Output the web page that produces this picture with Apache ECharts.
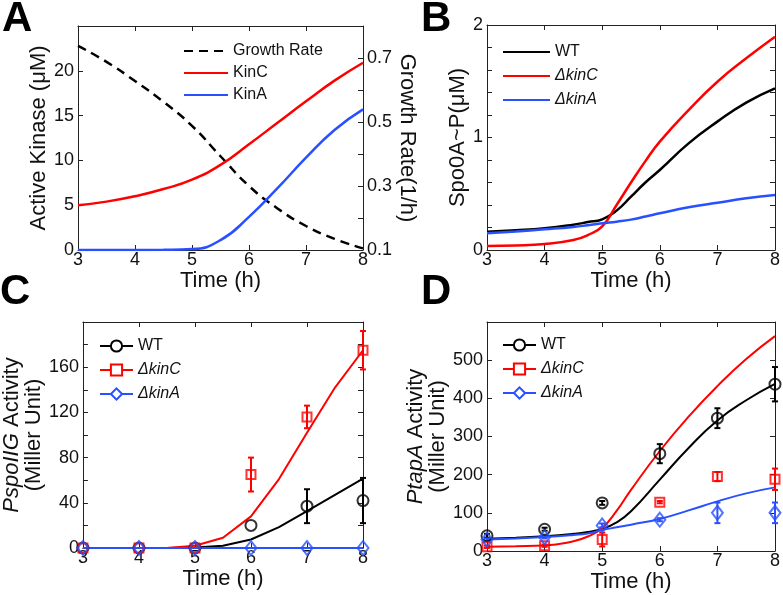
<!DOCTYPE html>
<html>
<head>
<meta charset="utf-8">
<script src="https://cdn.jsdelivr.net/npm/echarts@6/dist/echarts.min.js"></script>
<style>
  html, body { margin: 0; padding: 0; background: #fff; }
  #chart { width: 783px; height: 595px; }
</style>
</head>
<body>
<div id="chart"></div>
<script>
// ---- data ----
// panel A: model kinase / growth rate
const hoursA = [3, 3.5, 4, 4.5, 5, 5.5, 6, 6.5, 7, 7.5, 8]
const growthRate = [0.738, 0.688, 0.628, 0.563, 0.488, 0.393, 0.3, 0.23, 0.175, 0.135, 0.105]
const kinC = [5.0, 5.4, 6.0, 6.8, 7.85, 9.5, 11.8, 14.2, 16.6, 18.9, 20.9]
const kinA = [0, 0, 0, 0.02, 0.1, 1.1, 3.7, 6.9, 10.3, 13.4, 15.7]

// panel B: Spo0A~P model
const hoursB = [3, 3.5, 4, 4.5, 4.75, 5, 5.25, 5.5, 5.75, 6, 6.5, 7, 7.5, 8]
const spoWT = [0.163, 0.175, 0.193, 0.225, 0.248, 0.273, 0.35, 0.474, 0.6, 0.711, 0.948, 1.141, 1.31, 1.437]
const spoKinC = [0.036, 0.04, 0.053, 0.089, 0.133, 0.21, 0.4, 0.6, 0.79, 0.963, 1.244, 1.496, 1.704, 1.896]
const spoKinA = [0.148, 0.165, 0.184, 0.205, 0.22, 0.237, 0.252, 0.27, 0.297, 0.326, 0.38, 0.42, 0.459, 0.489]

// panel C: PspoIIG activity
const hoursC = [3, 3.5, 4, 4.5, 5, 5.5, 6, 6.5, 7, 7.5, 8]
const spoiigModelWT = [0, 0, 0, 0, 0.5, 2, 7.5, 18.4, 32.6, 47, 61.3]
const spoiigModelKinC = [0, 0, 0, 0, 2, 9, 28, 61, 102, 142, 175]
const spoiigModelKinA = [0, 0, 0, 0, 0, 0, 0, 0, 0, 0, 0]

const hoursData = [3, 4, 5, 6, 7, 8]
const spoiigWT = [0, 0, 0, 20, 37, 42]
const spoiigWTErr = [0, 0, 0, 0, 15, 20]
const spoiigKinC = [0, 0, 0, 65, 116, 175]
const spoiigKinCErr = [0, 0, 0, 15, 10, 17]
const spoiigKinA = [0, 0, 0, 0, 0, 0]
const spoiigKinAErr = [0, 0, 0, 0, 0, 0]

// panel D: PtapA activity
const hoursD = [3, 3.5, 4, 4.5, 4.75, 5, 5.25, 5.5, 6, 6.5, 7, 7.5, 8]
const tapaModelWT = [32, 35, 38.7, 45, 50, 58, 75, 104, 187, 270, 342, 395, 438]
const tapaModelKinC = [11, 12.5, 14.4, 25.6, 38, 60.5, 105, 160, 262, 352, 432, 503, 563]
const tapaModelKinA = [30, 33, 36.5, 42, 46, 55, 62, 69, 84, 106.5, 130, 151, 166.7]

const tapaWT = [40, 57, 126, 255, 348, 437]
const tapaWTErr = [5, 4, 5, 25, 26, 45]
const tapaKinC = [11, 14, 30, 128, 195, 188]
const tapaKinCErr = [3, 3, 18, 3, 12, 28]
const tapaKinA = [30, 36, 67, 82, 100, 100]
const tapaKinAErr = [3, 3, 5, 4, 27, 27]

// ---- styles ----
const FONT = 'Liberation Sans, Arial, Helvetica, sans-serif'
const RED = '#ff0000'
const BLUE = '#2850ff'
const BLACK = '#000000'
const AXIS = '#222222'

const zip = (xs, ys) => xs.map((x, i) => [x, ys[i]])
const errRows = (xs, ys, es) => xs.map((x, i) => [x, ys[i] - es[i], ys[i] + es[i]]).filter(d => d[2] > d[1])

function xAxes(grid, nameGap) {
  const base = {
    type: 'value', gridIndex: grid, min: 3, max: 8, interval: 1,
    axisLine: { show: true, onZero: false, lineStyle: { color: AXIS, width: 1 } },
    axisTick: { show: true, inside: true, length: 5, lineStyle: { color: AXIS } },
    splitLine: { show: false }
  }
  return [
    Object.assign({}, base, {
      position: 'bottom',
      name: 'Time (h)', nameLocation: 'middle', nameGap: nameGap,
      nameTextStyle: { fontSize: 22, color: '#111', fontFamily: FONT },
      axisLabel: { fontSize: 18, color: '#111', margin: 1, fontFamily: FONT }
    }),
    Object.assign({}, base, { position: 'top', axisLabel: { show: false } })
  ]
}

function yAxis(grid, pos, range, labelFn, nameOpts) {
  const ax = {
    type: 'value', gridIndex: grid, position: pos,
    min: range[0], max: range[1], interval: range[2],
    axisLine: { show: true, onZero: false, lineStyle: { color: AXIS, width: 1 } },
    axisTick: { show: true, inside: true, length: 5, lineStyle: { color: AXIS } },
    splitLine: { show: false },
    axisLabel: labelFn
      ? { fontSize: 18, color: '#111', margin: 4, fontFamily: FONT, formatter: labelFn }
      : { show: false }
  }
  return nameOpts ? Object.assign(ax, nameOpts) : ax
}

function errorBars(color) {
  return function (params, api) {
    const x = api.value(0)
    const top = api.coord([x, api.value(2)])
    const bot = api.coord([x, api.value(1)])
    const cap = 3
    const st = () => ({ stroke: color, lineWidth: 2, fill: null })
    return {
      type: 'group',
      children: [
        { type: 'line', shape: { x1: top[0], y1: top[1], x2: bot[0], y2: bot[1] }, style: st() },
        { type: 'line', shape: { x1: top[0] - cap, y1: top[1], x2: top[0] + cap, y2: top[1] }, style: st() },
        { type: 'line', shape: { x1: bot[0] - cap, y1: bot[1], x2: bot[0] + cap, y2: bot[1] }, style: st() }
      ]
    }
  }
}

function modelLine(name, xi, yi, xs, ys, color, opts) {
  return Object.assign({
    name: name, type: 'line', xAxisIndex: xi, yAxisIndex: yi,
    data: zip(xs, ys), symbol: 'none', showSymbol: false,
    lineStyle: { color: color, width: 2 }, itemStyle: { color: color },
    animation: false, z: 2
  }, opts || {})
}

function markers(name, xi, yi, ys, symbol, size, color) {
  return {
    name: name, type: 'scatter', xAxisIndex: xi, yAxisIndex: yi,
    data: zip(hoursData, ys), symbol: symbol, symbolSize: size,
    itemStyle: { color: 'rgba(0,0,0,0)', borderColor: color, borderWidth: 2 },
    animation: false, z: 4
  }
}

function bars(name, xi, yi, ys, es, color) {
  return {
    name: name, type: 'custom', xAxisIndex: xi, yAxisIndex: yi,
    data: errRows(hoursData, ys, es), encode: { x: 0, y: [1, 2] },
    renderItem: errorBars(color), animation: false, z: 3
  }
}

const legendBase = {
  orient: 'vertical', padding: 0, itemHeight: 14,
  textStyle: { fontSize: 16, color: '#111', fontFamily: FONT },
  formatter: name => name.trim()
}
const italic = { fontStyle: 'italic' }
const thick = color => ({ smooth: true, lineStyle: { color: color, width: 2.5 } })

const option = {
  backgroundColor: '#fff',
  animation: false,
  grid: [
    { left: 78, top: 26, width: 285, height: 224 },
    { left: 487, top: 25, width: 289, height: 225 },
    { left: 78, top: 322, width: 285, height: 226 },
    { left: 487, top: 322, width: 290, height: 229 }
  ],
  xAxis: [].concat(xAxes(0, 19), xAxes(1, 19), xAxes(2, 20), xAxes(3, 18)),
  yAxis: [
    yAxis(0, 'left', [0, 25, 5], v => (v > 20 ? '' : v), {
      name: 'Active Kinase (μM)', nameLocation: 'middle', nameGap: 21,
      nameTextStyle: { fontSize: 22, color: '#111', fontFamily: FONT }
    }),
    yAxis(0, 'right', [0.1, 0.8, 0.1], v => {
      const r = Math.round(v * 10)
      return r % 2 === 1 && r < 8 ? (r / 10).toFixed(1) : ''
    }, {
      name: 'Growth Rate(1/h)', nameLocation: 'middle', nameGap: 22, nameRotate: -90,
      nameTextStyle: { fontSize: 22, color: '#111', fontFamily: FONT }
    }),
    yAxis(1, 'left', [0, 2, 0.2], v => (Math.abs(v - Math.round(v)) < 1e-6 ? String(Math.round(v)) : ''), {
      name: 'Spo0A~P(μM)', nameLocation: 'middle', nameGap: 16,
      nameTextStyle: { fontSize: 22, color: '#111', fontFamily: FONT }
    }),
    yAxis(1, 'right', [0, 2, 0.2], null),
    yAxis(2, 'left', [0, 200, 20], v => (v % 40 === 0 && v < 200 ? v : ''), {
      name: '{i|PspoIIG} Activity\n(Miller Unit)', nameLocation: 'middle', nameGap: 25,
      nameTextStyle: {
        fontSize: 22, lineHeight: 22, color: '#111', fontFamily: FONT,
        rich: { i: { fontSize: 22, fontStyle: 'italic', color: '#111', fontFamily: FONT } }
      }
    }),
    yAxis(2, 'right', [0, 200, 20], null),
    yAxis(3, 'left', [0, 600, 100], v => (v < 600 ? v : ''), {
      name: '{i|PtapA} Activity\n(Miller Unit)', nameLocation: 'middle', nameGap: 35,
      nameTextStyle: {
        fontSize: 22, lineHeight: 22, color: '#111', fontFamily: FONT,
        rich: { i: { fontSize: 22, fontStyle: 'italic', color: '#111', fontFamily: FONT } }
      }
    }),
    yAxis(3, 'right', [0, 600, 100], null)
  ],
  legend: [
    Object.assign({}, legendBase, {
      left: 183, top: 43, itemWidth: 44, itemGap: 6, itemStyle: { opacity: 0 },
      data: ['Growth Rate', 'KinC', 'KinA']
    }),
    Object.assign({}, legendBase, {
      left: 502, top: 44, itemWidth: 47, itemGap: 8, itemStyle: { opacity: 0 },
      data: ['WT', { name: 'ΔkinC', textStyle: italic }, { name: 'ΔkinA', textStyle: italic }]
    }),
    Object.assign({}, legendBase, {
      left: 99, top: 338, itemWidth: 33, itemGap: 8,
      data: ['WT ', { name: 'ΔkinC ', textStyle: italic }, { name: 'ΔkinA ', textStyle: italic }]
    }),
    Object.assign({}, legendBase, {
      left: 502, top: 337, itemWidth: 33, itemGap: 8,
      data: ['WT  ', { name: 'ΔkinC  ', textStyle: italic }, { name: 'ΔkinA  ', textStyle: italic }]
    })
  ],
  graphic: [
    { type: 'text', left: 2, top: -2, style: { text: 'A', font: 'bold 42px ' + FONT, fill: '#000' } },
    { type: 'text', left: 421, top: -2, style: { text: 'B', font: 'bold 42px ' + FONT, fill: '#000' } },
    { type: 'text', left: 0, top: 271, style: { text: 'C', font: 'bold 42px ' + FONT, fill: '#000' } },
    { type: 'text', left: 421, top: 271, style: { text: 'D', font: 'bold 42px ' + FONT, fill: '#000' } }
  ],
  series: [
    // A
    modelLine('Growth Rate', 0, 1, hoursA, growthRate, BLACK, { smooth: true, lineStyle: { color: BLACK, width: 2.5, type: [9, 6] } }),
    modelLine('KinC', 0, 0, hoursA, kinC, RED, thick(RED)),
    modelLine('KinA', 0, 0, hoursA, kinA, BLUE, thick(BLUE)),
    // B
    modelLine('WT', 2, 2, hoursB, spoWT, BLACK, thick(BLACK)),
    modelLine('ΔkinC', 2, 2, hoursB, spoKinC, RED, thick(RED)),
    modelLine('ΔkinA', 2, 2, hoursB, spoKinA, BLUE, thick(BLUE)),
    // C
    modelLine('WT ', 4, 4, hoursC, spoiigModelWT, BLACK, { symbol: 'emptyCircle' }),
    modelLine('ΔkinC ', 4, 4, hoursC, spoiigModelKinC, RED, { symbol: 'emptyRect' }),
    modelLine('ΔkinA ', 4, 4, hoursC, spoiigModelKinA, BLUE, { symbol: 'emptyDiamond' }),
    bars('wtErrC', 4, 4, spoiigWT, spoiigWTErr, BLACK),
    bars('kinCErrC', 4, 4, spoiigKinC, spoiigKinCErr, RED),
    bars('kinAErrC', 4, 4, spoiigKinA, spoiigKinAErr, BLUE),
    markers('wtPtsC', 4, 4, spoiigWT, 'circle', 11, BLACK),
    markers('kinCPtsC', 4, 4, spoiigKinC, 'rect', 9, RED),
    markers('kinAPtsC', 4, 4, spoiigKinA, 'diamond', [11, 14], BLUE),
    // D
    modelLine('WT  ', 6, 6, hoursD, tapaModelWT, BLACK, { smooth: true, symbol: 'emptyCircle' }),
    modelLine('ΔkinC  ', 6, 6, hoursD, tapaModelKinC, RED, { smooth: true, symbol: 'emptyRect' }),
    modelLine('ΔkinA  ', 6, 6, hoursD, tapaModelKinA, BLUE, { smooth: true, symbol: 'emptyDiamond' }),
    bars('wtErrD', 6, 6, tapaWT, tapaWTErr, BLACK),
    bars('kinCErrD', 6, 6, tapaKinC, tapaKinCErr, RED),
    bars('kinAErrD', 6, 6, tapaKinA, tapaKinAErr, BLUE),
    markers('wtPtsD', 6, 6, tapaWT, 'circle', 11, BLACK),
    markers('kinCPtsD', 6, 6, tapaKinC, 'rect', 9, RED),
    markers('kinAPtsD', 6, 6, tapaKinA, 'diamond', [11, 14], BLUE)
  ]
}

const chart = echarts.init(document.getElementById('chart'), null, { renderer: 'canvas' })
chart.setOption(option)
</script>
</body>
</html>
